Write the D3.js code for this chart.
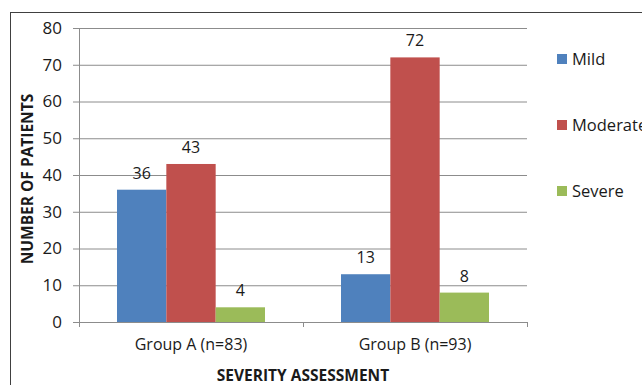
<!DOCTYPE html>
<html>
<head>
<meta charset="utf-8">
<script src="https://cdn.jsdelivr.net/npm/d3@7"></script>
<style>
  html, body { margin: 0; padding: 0; background: #fff; }
  svg { display: block; }
  text { font-family: "Open Sans", "Noto Sans", sans-serif; fill: #1a1a1a; }
</style>
</head>
<body>
<svg id="chart" width="642" height="385"></svg>
<script>
// Patients per severity grade in each study group
const groups = ["Group A (n=83)", "Group B (n=93)"];
const severities = ["Mild", "Moderate", "Severe"];
const mild = [36, 13];
const moderate = [43, 72];
const severe = [4, 8];
const yTicks = [0, 10, 20, 30, 40, 50, 60, 70, 80];
const colors = ["#4F81BD", "#C0504D", "#9BBB59"];

const seriesValues = [mild, moderate, severe];
const rows = groups.map((g, i) => ({
  group: g,
  values: severities.map((s, k) => ({ key: s, value: seriesValues[k][i] }))
}));

const svg = d3.select("#chart");

// outer frame
svg.append("rect")
  .attr("x", 10.5).attr("y", 12.5)
  .attr("width", 660).attr("height", 400)
  .attr("fill", "none").attr("stroke", "#404040").attr("stroke-width", 1);

const plot = { left: 79, right: 527, top: 28, bottom: 322 };

const y = d3.scaleLinear().domain([0, 80]).range([plot.bottom, plot.top]);
const x0 = d3.scaleBand().domain(groups).range([plot.left, plot.right]).padding(0);
const x1 = d3.scaleBand().domain(severities)
  .range([38, x0.bandwidth() - 38]).padding(0);

// gridlines with left tick marks
const yAxis = d3.axisLeft(y).tickValues(yTicks)
  .tickSize(-(plot.right - plot.left)).tickPadding(17).tickFormat(d3.format("d"));
const gy = svg.append("g").attr("transform", `translate(${plot.left},0)`).call(yAxis);
gy.attr("font-size", null).attr("font-family", null);
gy.select(".domain").remove();
gy.selectAll(".tick line").attr("stroke", "#8c8c8c").attr("x1", -6);
gy.selectAll(".tick text").style("font-size", "17px").attr("fill", "#1a1a1a");

// vertical axis line
svg.append("line")
  .attr("x1", plot.left + 0.5).attr("x2", plot.left + 0.5)
  .attr("y1", plot.top).attr("y2", plot.bottom)
  .attr("stroke", "#8c8c8c");

// category axis
const xAxis = d3.axisBottom(x0).tickSize(0).tickPadding(17);
const gx = svg.append("g").attr("transform", `translate(0,${plot.bottom})`).call(xAxis);
gx.attr("font-size", null).attr("font-family", null);
gx.select(".domain").attr("stroke", "#8c8c8c");
gx.selectAll(".tick text").style("font-size", "16px").attr("fill", "#1a1a1a");
// boundary tick marks between categories
const bounds = [plot.left, plot.left + x0.bandwidth(), plot.right];
svg.selectAll(".bound").data(bounds).enter().append("line")
  .attr("x1", d => Math.round(d) + 0.5).attr("x2", d => Math.round(d) + 0.5)
  .attr("y1", plot.bottom).attr("y2", plot.bottom + 5)
  .attr("stroke", "#8c8c8c");

// bars
const g = svg.selectAll(".grp").data(rows).enter().append("g")
  .attr("transform", d => `translate(${x0(d.group)},0)`);
g.selectAll("rect").data(d => d.values).enter().append("rect")
  .attr("x", d => x1(d.key))
  .attr("y", d => y(d.value))
  .attr("width", x1.bandwidth())
  .attr("height", d => y(0) - y(d.value))
  .attr("fill", (d, i) => colors[i]);

// value labels
g.selectAll(".val").data(d => d.values).enter().append("text")
  .attr("x", d => x1(d.key) + x1.bandwidth() / 2)
  .attr("y", d => y(d.value) - 11)
  .attr("text-anchor", "middle")
  .style("font-size", "16px")
  .text(d => d.value);

// axis titles
svg.append("text")
  .attr("transform", "translate(33,179) rotate(-90)")
  .attr("text-anchor", "middle")
  .style("font-size", "15.5px").attr("font-weight", "bold")
  .text("NUMBER OF PATIENTS");
svg.append("text")
  .attr("x", 303).attr("y", 381)
  .attr("text-anchor", "middle")
  .style("font-size", "15.5px").attr("font-weight", "bold")
  .text("SEVERITY ASSESSMENT");

// legend
const leg = svg.selectAll(".leg").data(severities).enter().append("g")
  .attr("transform", (d, i) => `translate(557,${59 + i * 66})`);
leg.append("rect").attr("x", 0).attr("y", -5).attr("width", 10).attr("height", 10)
  .attr("fill", (d, i) => colors[i]);
leg.append("text").attr("x", 15).attr("y", 0).attr("dy", "0.35em")
  .style("font-size", "16.5px").text(d => d);
</script>
</body>
</html>
